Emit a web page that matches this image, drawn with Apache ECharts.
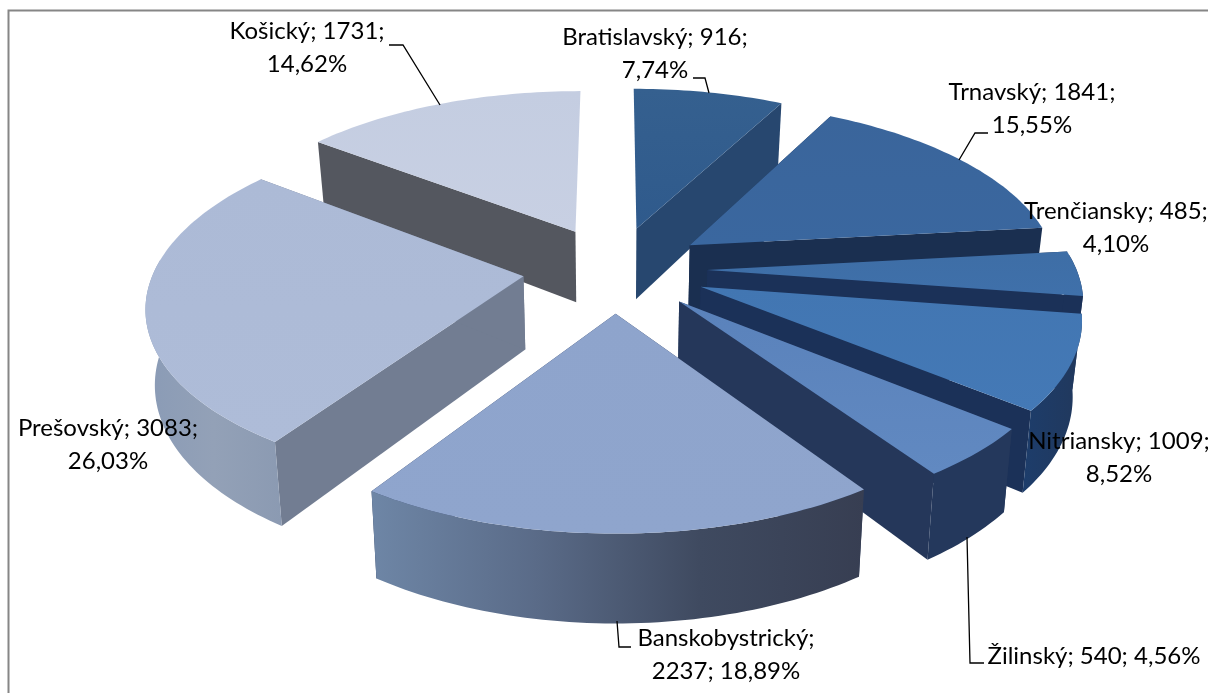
<!DOCTYPE html>
<html>
<head>
<meta charset="utf-8">
<style>html,body{margin:0;padding:0;background:#fff}#c{width:1208px;height:693px}</style>
<script src="https://cdn.jsdelivr.net/npm/echarts@6/dist/echarts.min.js"></script>
</head>
<body>
<div id="c"></div>
<script>
// Data
const regions = ['Bratislavský','Trnavský','Trenčiansky','Nitriansky','Žilinský','Banskobystrický','Prešovský','Košický'];
const counts = [916,1841,485,1009,540,2237,3083,1731];

// Label layout (style, not data)
const labelBreaks = [
  '{n}; {v};\n{p}','{n}; {v};\n{p}','{n}; {v};\n{p}','{n}; {v};\n{p}',
  '{n}; {v}; {p}','{n};\n{v}; {p}','{n}; {v};\n{p}','{n}; {v};\n{p}'
];
const labelCentres = [[655,53.5],[1032,109],[1116,228],[1119,457.5],[1094,656],[726,655],[108,444.5],[307,47.5]];
const leaderLines = [
  [[693,78],[705,78],[709,93]],
  [[988,133],[975,133],[959,160]],
  null,
  null,
  [[967,537],[970,663],[984,663]],
  [[617,621],[619,647],[631,647]],
  null,
  [[389,45],[403,45],[440,105]]
];

// Colours
const topColours = [
  ['#35608f','#2f5a8c'],['#3a659b','#3a679f'],['#3e6ea6','#3f70aa'],['#4276b2','#4479b6'],
  ['#5a82bb','#6189c1'],['#8ea4cc','#8fa5cd'],['#acbad6','#aebcd8'],['#c4cde1','#c8d0e3']
];
const rimColours = [
  ['#27476f','#27476f'],['#1b3158','#1b3158'],['#1b3158','#1b3158'],['#1d3d6b','#21385c'],
  ['#24385c','#24385c'],['#6e86a6','#5a6b88','#3f4a60','#373e52'],['#8a9bb6','#93a1b7','#8b9ab2'],['#54575f','#54575f']
];
const faceColours = ['#27476f','#1a2f50','#1b3158','#1b3158','#25375a','#2a3a5c','#727d92','#54575f'];
const drawOrder = [0,7,1,6,2,3,4,5];

// Perspective of the 3D pie
const P = {cx:615, cy:269, R:369, A:172, k:0.15, depth:73, taper:0.02, explode:0.25, minFaceArea:1500};
function project(X, Y, z){
  const w = 1/(1+P.k*Y);
  return [P.cx + P.R*X*w*(1-P.taper*z), P.cy - P.A*Y*w + P.depth*z*w];
}
const total = counts.reduce((a,b)=>a+b,0);
const slices = [];
(function(){
  let acc = 0;
  counts.forEach(v=>{
    const a0 = acc/total*2*Math.PI; acc += v;
    const a1 = acc/total*2*Math.PI;
    slices.push({a0, a1, m:(a0+a1)/2});
  });
})();
function grad(stops){
  if(stops.every(s=>s===stops[0])) return stops[0];
  return new echarts.graphic.LinearGradient(0,0,1,0,stops.map((c,i)=>({offset:i/(stops.length-1),color:c})));
}
function area(pts){
  let a = 0;
  pts.forEach((p,i)=>{const q = pts[(i+1)%pts.length]; a += p[0]*q[1]-q[0]*p[1];});
  return Math.abs(a)/2;
}
function sliceShapes(i){
  const s = slices[i];
  const ex = P.explode*Math.sin(s.m), ey = P.explode*Math.cos(s.m);
  const n = Math.max(8, Math.round((s.a1-s.a0)*50));
  const angles = [];
  for(let j=0;j<=n;j++) angles.push(s.a0+(s.a1-s.a0)*j/n);
  const at = (t,z)=>project(ex+Math.sin(t), ey+Math.cos(t), z);
  const rim0 = angles.map(t=>at(t,0));
  const front = angles.filter(t=>Math.cos(t)<0.1);
  const ap0 = project(ex,ey,0), ap1 = project(ex,ey,1);
  const poly = (pts,fill)=>({type:'polygon',silent:true,shape:{points:pts},style:{fill,stroke:null}});
  const children = [];
  [s.a0,s.a1].forEach(t=>{
    const f = [ap0,at(t,0),at(t,1),ap1];
    if(area(f)>P.minFaceArea) children.push(poly(f, faceColours[i]));
  });
  if(front.length>1){
    const up = front.map(t=>at(t,0)), down = front.map(t=>at(t,1)).reverse();
    children.push(poly(up.concat(down), grad(rimColours[i])));
  }
  children.push(poly([ap0].concat(rim0), new echarts.graphic.LinearGradient(0,0,0,1,[
    {offset:0,color:topColours[i][0]},{offset:1,color:topColours[i][1]}])));
  return children;
}
function labelText(i){
  const pct = (counts[i]/total*100).toFixed(2).replace('.',',')+'%';
  return labelBreaks[i].replace('{n}',regions[i]).replace('{v}',counts[i]).replace('{p}',pct);
}

const chart = echarts.init(document.getElementById('c'),null,{renderer:'canvas'});
chart.setOption({
  animation:false,
  backgroundColor:'#ffffff',
  graphic:[{type:'polyline',silent:true,z:0,shape:{points:[[8.5,693],[8.5,10.5],[1208,10.5]]},
    style:{stroke:'#868686',lineWidth:2,fill:null}}],
  series:[
    {type:'custom',coordinateSystem:'none',z:2,silent:true,
     data:drawOrder.map(i=>({name:regions[i],value:[i,counts[i]]})),
     renderItem:(params,api)=>({type:'group',children:sliceShapes(api.value(0))})},
    {type:'custom',coordinateSystem:'none',z:5,silent:true,
     data:regions.map((n,i)=>({name:n,value:[i,counts[i]]})),
     renderItem:(params,api)=>{
       const i = api.value(0), ch=[];
       if(leaderLines[i]) ch.push({type:'polyline',silent:true,shape:{points:leaderLines[i]},
         style:{stroke:'#000',lineWidth:1.3,fill:null}});
       ch.push({type:'text',silent:true,style:{text:labelText(i),x:labelCentres[i][0],y:labelCentres[i][1],
         align:'center',verticalAlign:'middle',lineHeight:33,fontFamily:'Lato',fontSize:24,fill:'#000'}});
       return {type:'group',children:ch};
     }}
  ]
});
</script>
</body>
</html>
